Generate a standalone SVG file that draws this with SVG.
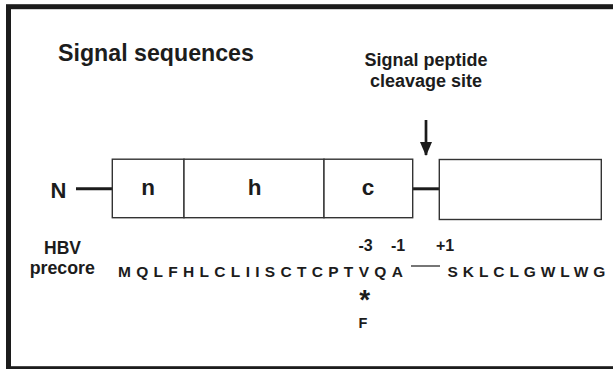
<svg xmlns="http://www.w3.org/2000/svg" width="613" height="369" viewBox="0 0 613 369">
  <defs>
    <marker id="arrowhead" viewBox="0 0 14 12" refX="13" refY="6" markerWidth="14" markerHeight="12" markerUnits="userSpaceOnUse" orient="auto">
      <path d="M0,0 L14,6 L0,12 Z" fill="#1c1c1c"/>
    </marker>
  </defs>
  <style>
    text { font-family: "Liberation Sans", Arial, sans-serif; font-weight: bold; fill: #1c1c1c; }
    .box { fill: #ffffff; stroke: #333333; stroke-width: 1.4; }
    .link { stroke: #1c1c1c; stroke-width: 3; fill: none; }
    .thin { stroke: #1c1c1c; stroke-width: 1.2; fill: none; }
    .seq { font-size: 15.5px; letter-spacing: 5.3px; }
    .pos { font-size: 16px; text-anchor: middle; }
    .mid { text-anchor: middle; }
  </style>

  <rect width="613" height="369" fill="#ffffff"/>
  <!-- outer frame -->
  <rect x="8.5" y="6.7" width="620" height="362" fill="none" stroke="#1c1c1c" stroke-width="5"/>

  <!-- headings -->
  <text x="58" y="61" font-size="23.2">Signal sequences</text>
  <text class="mid" x="426" y="66" font-size="18">Signal peptide</text>
  <text class="mid" x="426" y="87" font-size="18">cleavage site</text>

  <!-- connectors -->
  <g id="connectors">
    <line class="link" x1="76" y1="188.8" x2="112.3" y2="188.8"/>
    <line class="link" x1="412.7" y1="188.8" x2="439.3" y2="188.8"/>
    <line x1="426" y1="120" x2="426" y2="155" stroke="#1c1c1c" stroke-width="2.7" marker-end="url(#arrowhead)"/>
    <line class="thin" x1="411" y1="266" x2="440" y2="266"/>
  </g>

  <g id="terminus-N">
    <text class="mid" x="58.5" y="198" font-size="22">N</text>
  </g>
  <g id="region-n">
    <rect class="box" x="112.3" y="159.2" width="71.7" height="58.5"/>
    <text class="mid" x="148" y="195" font-size="22.5">n</text>
  </g>
  <g id="region-h">
    <rect class="box" x="184" y="159.2" width="140" height="58.5"/>
    <text class="mid" x="254.5" y="195" font-size="22.5">h</text>
  </g>
  <g id="region-c">
    <rect class="box" x="324" y="159.2" width="88.7" height="58.5"/>
    <text class="mid" x="368" y="195" font-size="22.5">c</text>
  </g>
  <g id="mature-protein">
    <rect class="box" x="439.3" y="159.5" width="162" height="60"/>
  </g>

  <!-- HBV precore sequence -->
  <g id="sequence">
    <text class="mid" x="62.5" y="254" font-size="17.5">HBV</text>
    <text class="mid" x="62.3" y="274" font-size="17.8">precore</text>
    <text class="pos" x="365.5" y="250.5">-3</text>
    <text class="pos" x="398" y="250.5">-1</text>
    <text class="pos" x="445" y="250.5">+1</text>
    <text class="seq" x="118" y="277">MQLFHLCLIISCTCPTVQA</text>
    <text class="seq" x="447.6" y="277" style="letter-spacing:4.9px">SKLCLGWLWG</text>
    <text class="mid" x="364.7" y="308.5" font-size="28">*</text>
    <text class="mid" x="363" y="328" font-size="14.5">F</text>
  </g>
</svg>
